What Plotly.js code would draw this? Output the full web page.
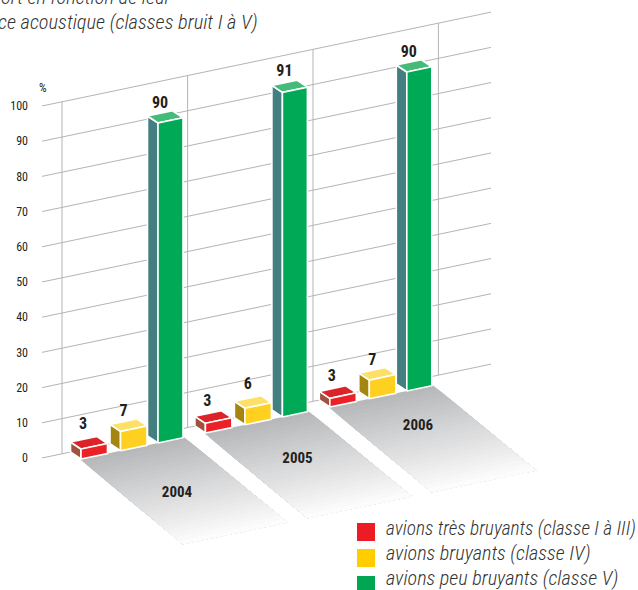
<!DOCTYPE html>
<html><head><meta charset="utf-8">
<script src="https://cdn.plot.ly/plotly-3.0.1.min.js"></script>
<style>html,body{margin:0;padding:0;background:#fff;overflow:hidden}</style>
</head><body><div id="chart" style="width:638px;height:590px"></div>
<script>
// ---- data
const years = ['2004','2005','2006'];
const seriesNames = ['avions très bruyants (classe I à III)','avions bruyants (classe IV)','avions peu bruyants (classe V)'];
const labelsRed = [3,3,3];
const labelsYellow = [7,6,7];
const labelsGreen = [90,91,90];
// bar heights as actually drawn in the reference, in axis units
const drawnRed = [2.84,2.76,2.47];
const drawnYellow = [5.5,4.7,5.3];
const drawnGreen = [90.9,92.2,90.6];
const yTicks = [0,10,20,30,40,50,60,70,80,90,100];

// ---- oblique projection (along the back wall, towards the viewer, up)
const PXU = 3.52, WALL_L = 42, WALL_R = 491, SLOPE = 0.209 / PXU;
const DX = 10.5, DY = 7 / PXU;
const proj = (a, d, v) => [a + d * DX, v + SLOPE * (a - WALL_L) - d * DY];
const A0 = 70.5, GROUP_STEP = 124.4, OFFSETS = [0, 39.5, 77], WIDTHS = [26.5, 26.5, 25];
const WALLS = [62, 187.6, 313, 438.4];
const FONT = '"Roboto Condensed","Liberation Sans",sans-serif';
const INK = '#231f20';
const LABEL_GAP = [[24,21,21],[19,23,19],[19,20,19]];
const LABEL_DX = [2,3,2];
const toV = py => (458 - py) / PXU;

const traces = [];
const polyTrace = (pts, fill, line, width) => {
  const x = [], y = [];
  pts.forEach(poly => { [...poly, poly[0]].forEach(p => { x.push(p[0]); y.push(p[1]); }); x.push(null); y.push(null); });
  return {type:'scatter', mode:'lines', x, y, fill:'toself', fillcolor:fill, line:{color:line||fill, width:width||0},
          hoverinfo:'skip', showlegend:false};
};

// walls and gridlines
(function(){
  const gx = [], gy = [];
  yTicks.forEach(v => { [WALL_L, WALL_R].forEach(a => { const p = proj(a,0,v); gx.push(p[0]); gy.push(p[1]); }); gx.push(null); gy.push(null); });
  WALLS.forEach(a => { [0,100].forEach(v => { const p = proj(a,0,v); gx.push(p[0]); gy.push(p[1]); }); gx.push(null); gy.push(null); });
  traces.push({type:'scatter', mode:'lines', x:gx, y:gy, line:{color:'#b4b4b4', width:1}, hoverinfo:'skip', showlegend:false});
})();

// floor shadows, painted back to front in bands
const SH = 24;
years.forEach((yr, g) => {
  const aL = A0 + g * GROUP_STEP - 1, aR = A0 + g * GROUP_STEP + OFFSETS[2] + WIDTHS[2] + 1.5;
  for (let i = 0; i < SH; i++) {
    const t = i / SH, c = Math.round(183 + 72 * t), c2 = Math.round(184 + 71 * t), c3 = Math.round(186 + 69 * t);
    const pt = (a, f) => { const p = proj(a, 1, 0); return [p[0] + f * 103, p[1] - f * 85 / PXU]; };
    traces.push(polyTrace([[pt(aL,t), pt(aR,t), pt(aR,1), pt(aL,1)]], `rgb(${c},${c2},${c3})`));
  }
});

// boxes
const faces = [
  {h:drawnGreen,  s:2, side:'#437f80', top:'#45bb7a', front:'#00a956'},
  {h:drawnYellow, s:1, side:'#a3850f', top:'#ffe066', front:'#ffd020'},
  {h:drawnRed,    s:0, side:'#a0523f', top:'#dc2428', front:'#ec2027'}
];
faces.forEach(f => {
  const side = [], top = [], front = [];
  f.h.forEach((h, g) => {
    const a = A0 + g * GROUP_STEP + OFFSETS[f.s], w = WIDTHS[f.s];
    side.push([proj(a,0,0), proj(a,1,0), proj(a,1,h), proj(a,0,h)]);
    top.push([proj(a,0,h), proj(a,1,h), proj(a+w,1,h), proj(a+w,0,h)]);
    front.push([proj(a,1,0), proj(a+w,1,0), proj(a+w,1,h), proj(a,1,h)]);
  });
  traces.push(polyTrace(side, f.side, '#ffffff', 1.6));
  traces.push(polyTrace(top, f.top, '#ffffff', 1.6));
  traces.push(polyTrace(front, f.front, '#ffffff', 1.6));
});

// value labels
[[labelsRed,drawnRed,0],[labelsYellow,drawnYellow,1],[labelsGreen,drawnGreen,2]].forEach(([lab,h,s]) => {
  const x = [], y = [];
  lab.forEach((l, g) => { const p = proj(A0 + g * GROUP_STEP + OFFSETS[s] + LABEL_DX[s], 1, h[g] + LABEL_GAP[s][g] / PXU); x.push(p[0]); y.push(p[1]); });
  traces.push({type:'scatter', mode:'text', x, y, text:lab.map(String), textposition:'middle center', cliponaxis:false,
    textfont:{family:FONT, size:16, color:INK, weight:700}, hoverinfo:'skip', showlegend:false});
});

// year labels on the shadows
traces.push({type:'scatter', mode:'text', x:years.map((y,g)=>177+g*120.5), y:years.map((y,g)=>toV(493-g*33.5)), text:years, textposition:'middle center',
  textfont:{family:FONT, size:15, color:INK, weight:700}, hoverinfo:'skip', showlegend:false});

// key: swatches and their texts
const KEY_SWATCH_Y = [532, 558, 585], KEY_TEXT_Y = [530, 555, 580], KEY_SIZE = [19.4, 20.2, 20.2];
['#ed1c24','#ffcd00','#00a651'].forEach((c, i) => {
  traces.push({type:'scatter', mode:'markers', x:[366], y:[toV(KEY_SWATCH_Y[i])], name:seriesNames[i], cliponaxis:false,
    marker:{symbol:'square', size:18, color:c}, hoverinfo:'skip', showlegend:false});
  traces.push({type:'scatter', mode:'text', x:[386], y:[toV(KEY_TEXT_Y[i])], text:[seriesNames[i]], textposition:'middle right', cliponaxis:false,
    textfont:{family:FONT, size:KEY_SIZE[i], color:'#333', style:'italic', weight:300}, hoverinfo:'skip', showlegend:false});
});

const layout = {
  width:638, height:590, margin:{l:42,r:0,t:0,b:0,pad:0,autoexpand:false}, paper_bgcolor:'#fff', plot_bgcolor:'#fff', showlegend:false,
  xaxis:{range:[42,638], visible:false, fixedrange:true},
  yaxis:{range:[-37.5,130.11], showgrid:false, zeroline:false, showline:false, ticks:'', tickmode:'array',
    tickvals:yTicks, ticktext:yTicks.map(String), ticklabelstandoff:13, tickfont:{family:FONT, size:12, color:INK}, fixedrange:true},
  annotations:[
    {xref:'paper', yref:'paper', x:1/596, y:1-88/590, xanchor:'center', yanchor:'middle', text:'%', showarrow:false,
     font:{family:FONT, size:12, color:INK}},
    {xref:'paper', yref:'paper', x:(174-42)/596, y:1+3/590, xanchor:'right', yanchor:'middle', text:'<i>ort en fonction de leur</i>', showarrow:false,
     font:{family:FONT, size:20.4, color:'#333', weight:300}},
    {xref:'paper', yref:'paper', x:(260-42)/596, y:1-22/590, xanchor:'right', yanchor:'middle', text:'<i>ce acoustique (classes bruit I à V)</i>', showarrow:false,
     font:{family:FONT, size:20.4, color:'#333', weight:300}}
  ]
};
Plotly.newPlot('chart', traces, layout, {displayModeBar:false, staticPlot:true});
</script></body></html>
